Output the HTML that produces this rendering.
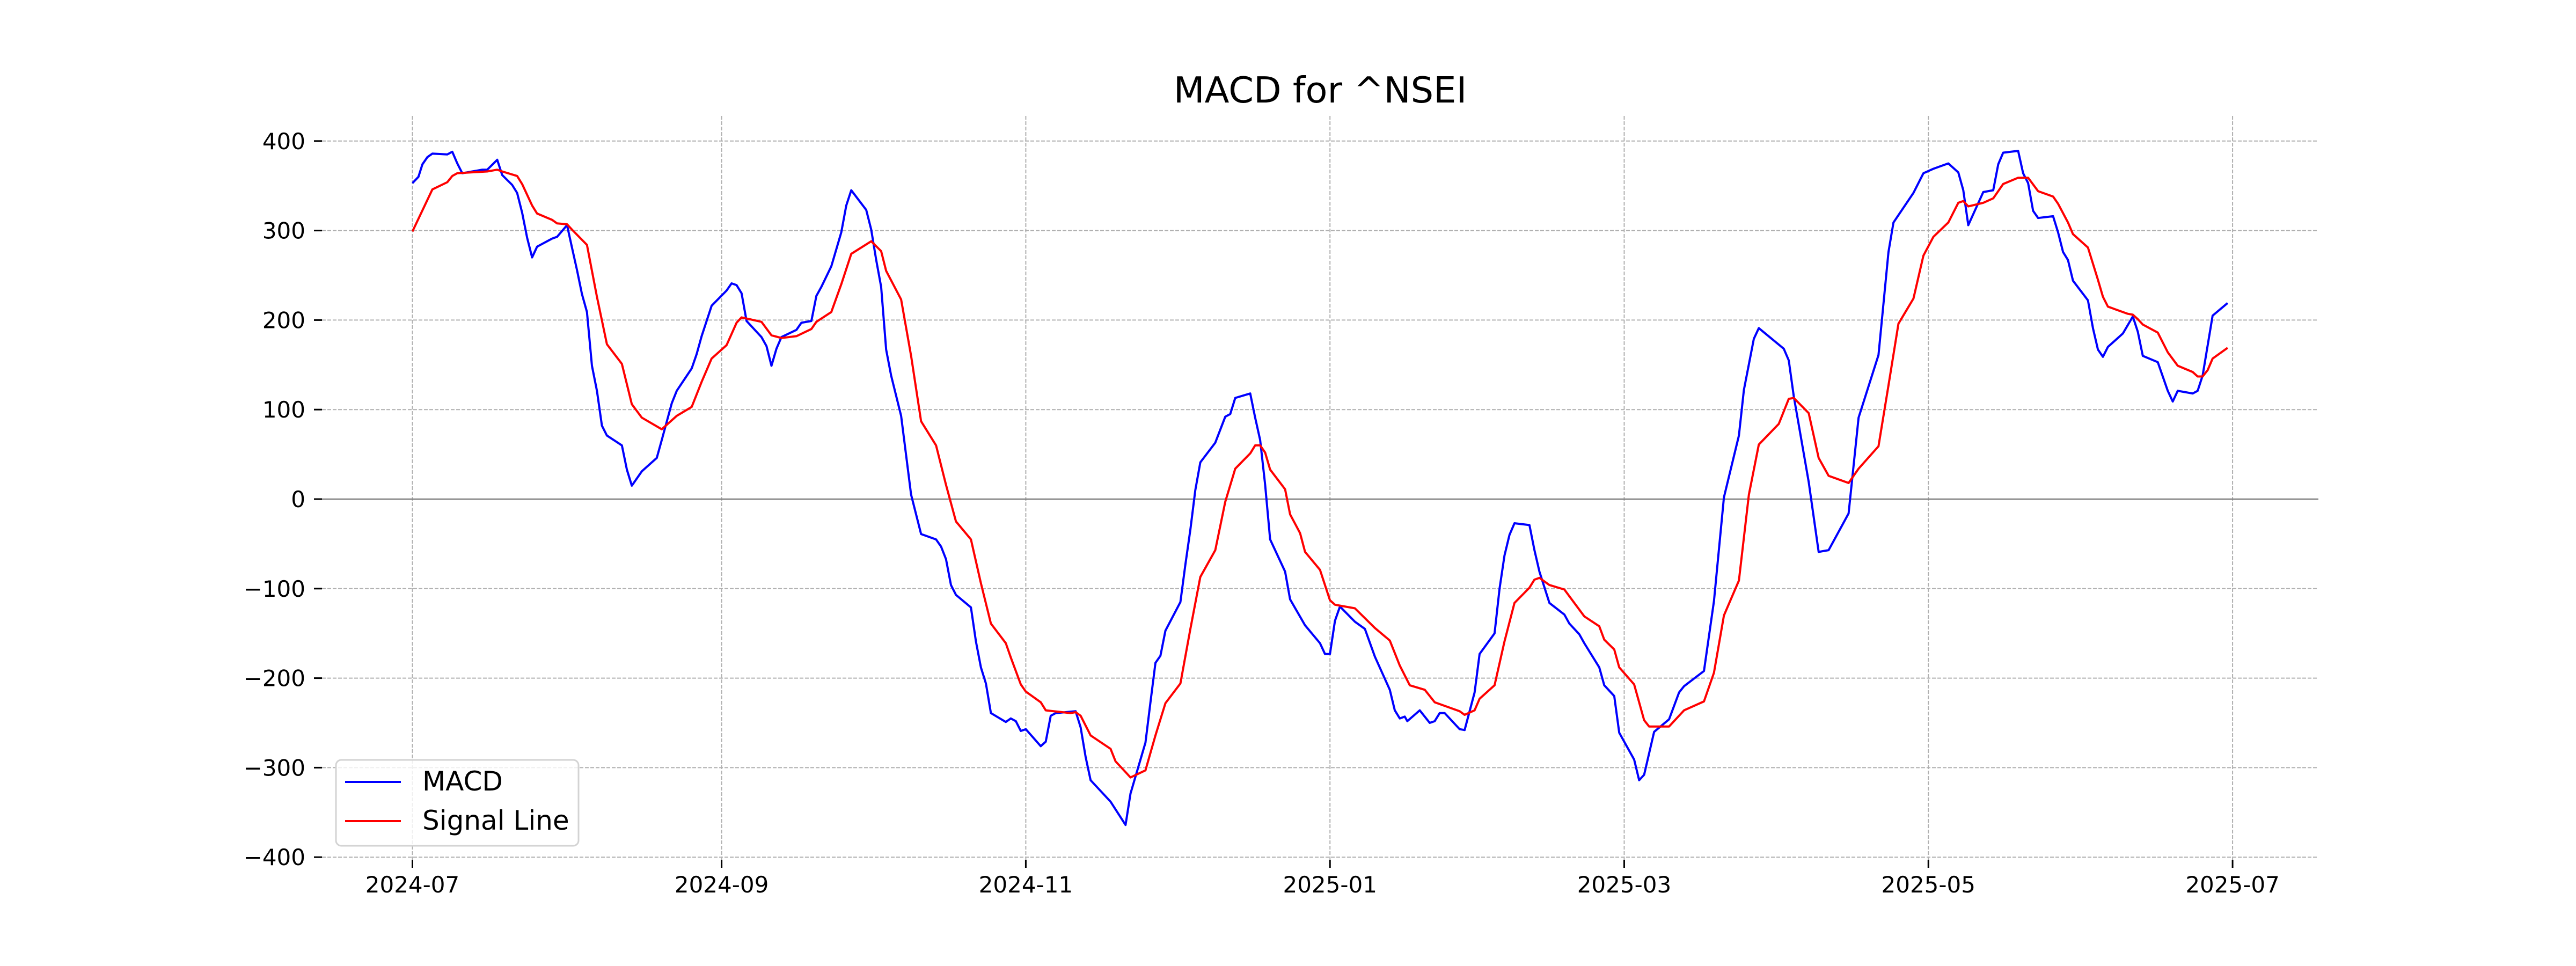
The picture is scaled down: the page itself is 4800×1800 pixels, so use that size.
<!DOCTYPE html>
<html><head><meta charset="utf-8"><style>
html,body{margin:0;padding:0;background:#fff;}
svg{display:block;font-family:"DejaVu Sans","Liberation Sans",sans-serif;}
</style></head><body>
<svg id="chart" width="4800" height="1800" viewBox="0 0 4800 1800" xmlns="http://www.w3.org/2000/svg">
<rect width="4800" height="1800" fill="#fff"/>
<text x="2460" y="191" font-size="67" text-anchor="middle" fill="#000">MACD for ^NSEI</text>
<g id="grid"></g>
<g id="axes"></g>
<g id="series"></g>
<g>
<rect x="626" y="1416" width="452" height="160" rx="10" fill="#fff" fill-opacity="0.8" stroke="#d3d3d3" stroke-width="3"/>
<line x1="643" y1="1457" x2="747" y2="1457" stroke="#0000ff" stroke-width="4"/>
<text x="787" y="1473" font-size="50" fill="#000">MACD</text>
<line x1="643" y1="1530" x2="747" y2="1530" stroke="#ff0000" stroke-width="4"/>
<text x="787" y="1546" font-size="50" fill="#000">Signal Line</text>
</g>
</svg>
<script>
const yTickValues = [-400,-300,-200,-100,0,100,200,300,400];
const xTickLabels = ["2024-07","2024-09","2024-11","2025-01","2025-03","2025-05","2025-07"];
const xTickDays = [0,62,123,184,243,304,365];
const macdDays = [0,1.2,2,3,4,7,8,9,10,12,14,15,17,18,20,21,22,23,24,25,28,29,31,32,33,34,35,36,37,38,39,42,43,44,46,49,50,52,53,56,57,58,60,63,64,65,66,67,70,71,72,73,74,77,78,80,81,82,84,86,87,88,91,92,93,94,95,96,98,99,100,102,105,106,107,108,109,112,113,114,115,116,119,120,121,122,123,126,127,128,129,133,134,135,136,140,143,144,147,148,149,150,151,154,155,156,157,158,161,163,164,165,168,169,170,171,172,175,176,179,182,183,184,185,186,189,191,193,196,197,198,199,199.5,202,204,205,206,207,210,211,213,214,217,218,219,220,221,224,225,226,228,231,232,234,235,238,239,241,242,245,246,247,249,252,254,255,259,261,263,266,267,269,270,275,276,277,280,282,284,288,290,294,296,297,301,303,305,308,310,311,312,315,317,318,319,322,323,324,325,326,329,330,331,332,333,336,337,338,339,340,343,345,346,347,350,352,353,354,357,358,359,361,364];
const macdValues = [353,360,374,382,386,385,388,375,364,366,368,368,379,362,351,342,320,292,270,282,291,293,306,281,256,229,209,149,121,82,71,60,33,15,31,46,66,107,121,146,162,182,216,233,241,239,230,199,181,171,149,168,181,189,197,199,227,237,260,298,328,345,323,301,267,237,167,138,93,49,5,-39,-45,-53,-67,-96,-107,-121,-159,-188,-206,-239,-249,-245,-248,-259,-257,-276,-271,-242,-239,-237,-255,-288,-314,-338,-364,-329,-272,-227,-183,-175,-147,-115,-73,-34,10,41,63,92,95,113,118,91,66,16,-45,-81,-112,-141,-161,-173,-173,-136,-120,-137,-145,-176,-213,-236,-245,-243,-248,-236,-250,-248,-239,-239,-257,-258,-216,-173,-150,-100,-63,-40,-27,-29,-57,-81,-116,-129,-139,-151,-161,-188,-208,-220,-261,-291,-314,-308,-260,-246,-216,-209,-192,-114,2,71,122,179,191,168,155,115,19,-59,-57,-16,91,161,276,309,342,364,369,375,365,345,306,343,345,374,387,389,364,353,322,314,316,298,276,267,244,222,191,167,159,170,185,204,187,160,153,121,109,121,118,121,138,205,219];
const signalDays = [0,4,7,8,9,15,17,18,21,22,24,25,28,29,31,32,35,37,39,42,44,46,50,53,56,58,60,63,65,66,70,72,74,77,80,81,84,86,88,92,94,95,98,100,102,105,107,109,112,114,116,119,120,122,123,126,127,132,133,134,136,140,141,143,144,147,149,151,154,156,158,161,163,165,168,169,170,171,172,175,176,178,179,182,184,185,189,191,193,196,198,200,203,205,210,211,213,214,217,219,221,224,225,226,228,231,235,238,239,241,242,245,247,248,252,255,259,261,263,266,268,270,274,276,277,280,282,284,288,290,294,296,298,301,303,305,308,310,311,312,315,317,319,322,324,326,329,330,332,333,336,338,339,340,344,345,346,347,350,352,354,357,358,359,360,361,364];
const signalValues = [299,346,354,361,364,366,368,366,361,352,328,319,312,308,307,301,284,226,173,151,106,91,78,93,103,131,157,172,197,203,198,183,180,182,190,198,209,240,274,288,277,255,223,160,87,60,16,-25,-45,-94,-139,-161,-177,-207,-215,-227,-236,-239,-238,-242,-264,-279,-293,-305,-311,-303,-264,-228,-206,-145,-87,-57,-3,34,51,60,60,52,33,11,-17,-38,-59,-79,-113,-118,-122,-133,-144,-158,-186,-208,-213,-227,-237,-241,-236,-223,-208,-159,-116,-99,-90,-88,-96,-101,-131,-142,-157,-168,-188,-207,-247,-254,-254,-236,-226,-194,-130,-91,5,61,84,112,113,96,46,26,18,34,59,127,196,224,272,293,309,331,333,327,331,336,352,359,359,344,338,330,309,296,281,245,226,215,207,206,201,195,186,164,149,142,137,137,144,157,169];

const NS = "http://www.w3.org/2000/svg";
const PLOT_L = 600, PLOT_R = 4320, PLOT_T = 216, PLOT_B = 1602;
const X0 = 768.5, PX_PER_DAY = 9.292;
const Y_ZERO = 930, PX_PER_UNIT = 1.668;
function xScale(day){ return X0 + day * PX_PER_DAY; }
function yScale(v){ return Y_ZERO - v * PX_PER_UNIT; }
function mk(tag, attrs, parent){
  const el = document.createElementNS(NS, tag);
  for (const k in attrs) el.setAttribute(k, attrs[k]);
  parent.appendChild(el);
  return el;
}
const grid = document.getElementById('grid');
const axes = document.getElementById('axes');
const series = document.getElementById('series');

yTickValues.forEach(function(v){
  const y = yScale(v);
  const g = mk('line', {x1:PLOT_L, x2:PLOT_R, y1:y, y2:y, stroke:'#b0b0b0', 'stroke-width':2, 'stroke-dasharray':'7,3'}, grid);
  
  
  const t = mk('line', {x1:585, x2:600, y1:y, y2:y, stroke:'#000', 'stroke-width':3}, axes);
  
  
  const lbl = mk('text', {x:569, y:y+15, 'font-size':42, 'text-anchor':'end', fill:'#000'}, axes);
  lbl.textContent = (v < 0 ? '\u2212' + Math.abs(v) : String(v));
  
  
});
xTickDays.forEach(function(d, i){
  const x = xScale(d);
  const g = mk('line', {x1:x, x2:x, y1:PLOT_T, y2:PLOT_B, stroke:'#b0b0b0', 'stroke-width':2, 'stroke-dasharray':'7,3'}, grid);
  
  
  const t = mk('line', {x1:x, x2:x, y1:PLOT_B, y2:PLOT_B+15, stroke:'#000', 'stroke-width':3}, axes);
  
  
  const lbl = mk('text', {x:x, y:1663, 'font-size':42, 'text-anchor':'middle', fill:'#000'}, axes);
  lbl.textContent = xTickLabels[i];
  
  
});
const zl = mk('line', {x1:PLOT_L, x2:PLOT_R, y1:yScale(0), y2:yScale(0), stroke:'#808080', 'stroke-width':2.5}, grid);



function pathFrom(days, vals){
  return days.map(function(d, i){ return (i ? 'L' : 'M') + xScale(d).toFixed(1) + ',' + yScale(vals[i]).toFixed(1); }).join(' ');
}
const macdLine = mk('path', {d:pathFrom(macdDays, macdValues), fill:'none', stroke:'#0000ff', 'stroke-width':4, 'stroke-linejoin':'round'}, series);


const sigLine = mk('path', {d:pathFrom(signalDays, signalValues), fill:'none', stroke:'#ff0000', 'stroke-width':4, 'stroke-linejoin':'round'}, series);


</script>
</body></html>
